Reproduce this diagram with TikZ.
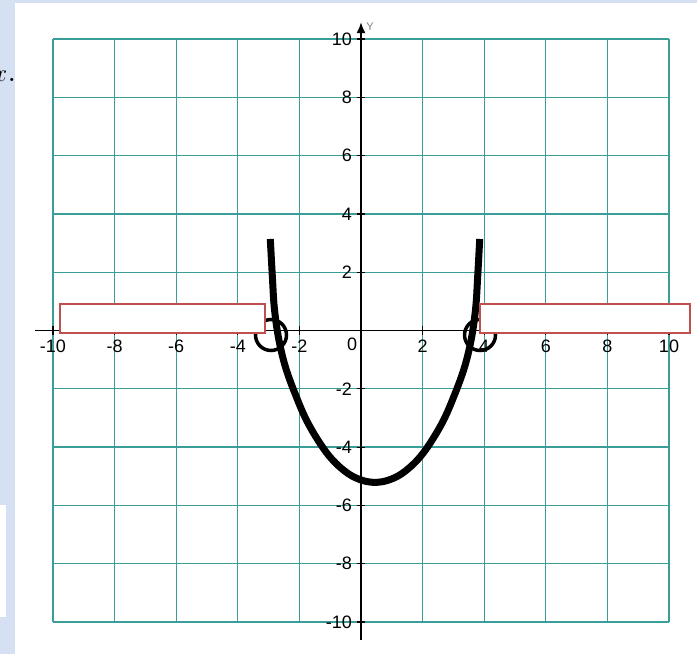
\documentclass[tikz,border=0pt]{standalone}
\usepackage{fontspec}
\newfontfamily\axisfont{Liberation Sans}
\definecolor{slidebg}{HTML}{D6E0F3}
\definecolor{gridteal}{HTML}{3A9D97}
\definecolor{boxred}{HTML}{C0504D}
\usetikzlibrary{arrows.meta}

\begin{document}
\begin{tikzpicture}[
  x=30.8pt, y=29.15pt,
  gridline/.style={draw=gridteal, line width=1.3pt},
  axisline/.style={draw=black, line width=1.8pt},
  tickline/.style={draw=black, line width=1.2pt},
  ticklabel/.style={font=\axisfont\fontsize{18}{18}\selectfont, inner sep=0pt},
  answerbox/.style={draw=boxred, fill=white, line width=2pt,
                    minimum height=29pt, inner sep=0pt},
  rootmark/.style={circle, draw=black, line width=3.5pt,
                   minimum size=31pt, inner sep=0pt},
]
\fill[slidebg] (-11.721,-11.098) rectangle (10.909,11.338);
\useasboundingbox (-11.721,-11.098) rectangle (10.909,11.338);
\fill[white] (-11.234,-11.098) rectangle (10.909,11.235);
\fill[white] (-11.721,-5.986) rectangle (-11.526,-9.828);
\node[anchor=base east, font=\fontsize{38}{40}\selectfont, inner sep=0pt]
  (varx) at (-11.169,8.559) {$x$.};

\foreach \k in {-10,-8,...,10} {
  \draw[gridline] (\k,-10) -- (\k,10);
  \draw[gridline] (-10,\k) -- (10,\k);
}

\draw[axisline] (-10.58,0) -- (10.5,0);
\draw[axisline, -{Latex[length=11pt,width=9pt]}] (0,-10.62) -- (0,10.58);
\node[font=\axisfont\fontsize{11}{11}\selectfont, text=gray, inner sep=0pt]
  (ylab) at (0.29,10.41) {Y};

\foreach \k in {-10,-8,-6,-4,-2,2,4,6,8,10} {
  \draw[tickline] (\k,-0.14) -- (\k,0.14);
  \draw[tickline] (-0.13,\k) -- (0.13,\k);
  \node[ticklabel, anchor=north] (xl\k) at (\k,-0.326) {\k};
  \node[ticklabel, anchor=east] (yl\k) at (-0.29,\k) {\k};
}
\node[ticklabel] (origin) at (-0.29,-0.48) {0};

\draw[line width=7pt] plot[smooth, tension=0.6] coordinates {
  (-2.945,3.14) (-2.875,1.79) (-2.815,0.79) (-2.685,-0.21) (-2.465,-1.21)
  (-2.125,-2.21) (-1.705,-3.21) (-1.105,-4.21) (-0.545,-4.81) (-0.045,-5.11)
  (0.455,-5.21)
  (0.955,-5.11) (1.455,-4.81) (2.015,-4.21) (2.615,-3.21) (3.035,-2.21)
  (3.375,-1.21) (3.595,-0.21) (3.725,0.79) (3.785,1.79) (3.855,3.14)};

\node[rootmark] (leftroot) at (-2.922,-0.154) {};
\node[rootmark] (rightroot) at (3.864,-0.154) {};

\node[answerbox, minimum width=205pt] (leftans) at (-6.445,0.412) {};
\node[answerbox, minimum width=210pt] (rightans) at (7.273,0.412) {};
\end{tikzpicture}
\end{document}
